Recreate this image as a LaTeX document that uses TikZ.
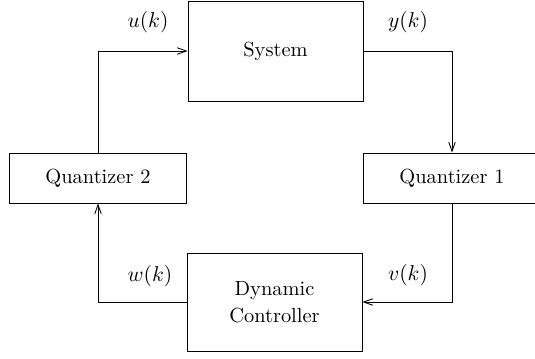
\documentclass[tikz,border=0pt]{standalone}
\usetikzlibrary{arrows.meta}

\tikzset{
  blk/.style={draw, line width=0.4pt, inner sep=0pt, align=center, font=\fontsize{9.5}{12.5}\selectfont},
  sig/.style={line width=0.4pt, -{Straight Barb[length=4.2pt,width=3pt]}}
}

\begin{document}
\begin{tikzpicture}[x=0.465pt, y=-0.465pt]
  \useasboundingbox (0,0) rectangle (535,358);
  % blocks
  \node[blk, minimum width=81.4pt, minimum height=46.5pt] (sys) at (275.5,51) {System};
  \node[blk, minimum width=82.3pt, minimum height=23.3pt] (qone) at (452,178) {Quantizer 1};
  \node[blk, minimum width=82.3pt, minimum height=23.3pt] (qtwo) at (98,178) {Quantizer 2};
  \node[blk, minimum width=81.4pt, minimum height=45.6pt] (ctrl) at (274.5,302) {Dynamic\\Controller};
  % loop
  \draw[sig] (sys.east) -| (qone.north);
  \draw[sig] (qone.south) |- (ctrl.east);
  \draw[sig] (ctrl.west) -| (qtwo.south);
  \draw[sig] (qtwo.north) |- (sys.west);
  % signals
  \node (u) at (148,22) {$u(k)$};
  \node (y) at (408,22) {$y(k)$};
  \node (w) at (150,276) {$w(k)$};
  \node (v) at (408,275) {$v(k)$};
\end{tikzpicture}
\end{document}
